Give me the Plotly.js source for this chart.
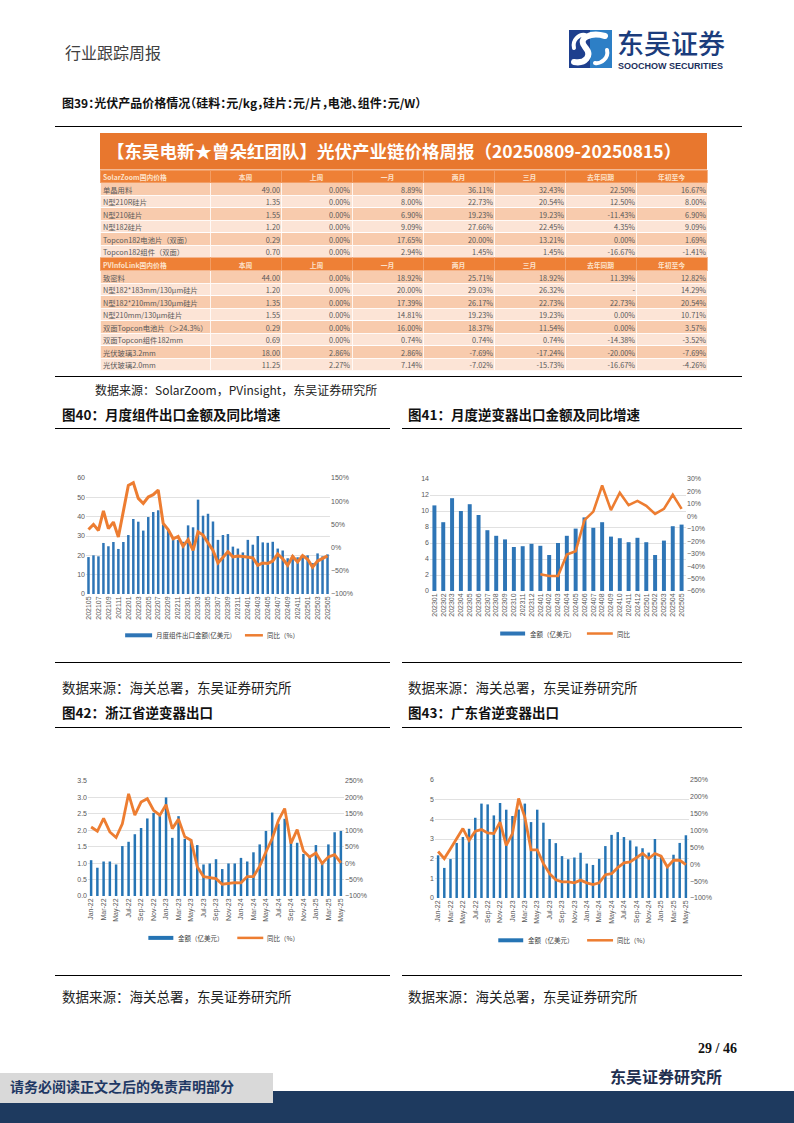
<!DOCTYPE html>
<html><head><meta charset="utf-8">
<script src="https://cdn.plot.ly/plotly-3.0.1.min.js"></script>
<style>
html,body{margin:0;padding:0;background:#fff}
body{width:794px;height:1123px;position:relative;overflow:hidden;font-family:"Noto Sans CJK SC",sans-serif}
.t{position:absolute;white-space:nowrap;line-height:1}
.hl{position:absolute;height:0;border-top:1.4px solid #000}
.cap{font-weight:700;color:#111}
.src{color:#222}
.ch{position:absolute}
</style></head><body>

<div class="t" style="left:65px;top:44px;font-size:16px;color:#404040">行业跟踪周报</div>
<svg class="t" style="left:569px;top:30px" width="43" height="38" viewBox="0 0 43 38">
  <rect x="0" y="0" width="43" height="38" fill="#1E3F8E"/>
  <rect x="21" y="0" width="22" height="38" fill="#2D7FC6"/>
  <path d="M36 6 C 22 2, 8 8, 16 17 C 24 26, 16 34, 5 32" stroke="#fff" stroke-width="6" fill="none" stroke-linecap="round"/>
  <path d="M38 20 C 40 28, 32 34, 26 33" stroke="#fff" stroke-width="4" fill="none" stroke-linecap="round"/>
  <path d="M5 18 C 3 10, 10 4, 16 5" stroke="#fff" stroke-width="4" fill="none" stroke-linecap="round"/>
</svg>
<div class="t" style="left:617px;top:29px;font-size:27px;color:#1B3C7C;font-weight:500">东吴证券</div>
<div class="t" style="left:618px;top:62px;font-size:9px;color:#1B2F5C;font-weight:700;font-family:'Liberation Sans',Arial,sans-serif">SOOCHOW SECURITIES</div>

<div class="t cap" style="left:62px;top:97px;font-size:12px;font-feature-settings:'halt'">图39：光伏产品价格情况（硅料：元/kg，硅片：元/片，电池、组件：元/W）</div>
<div class="hl" style="left:55px;top:126px;width:687px"></div>

<div id="tbl" class="ch" style="left:95px;top:128px;width:620px;height:250px"></div>

<div class="hl" style="left:55px;top:376px;width:687px"></div>
<div class="t src" style="left:95px;top:384px;font-size:12px">数据来源：SolarZoom，PVinsight，东吴证券研究所</div>

<div class="t cap" style="left:62px;top:408px;font-size:13.5px">图40：月度组件出口金额及同比增速</div>
<div class="t cap" style="left:408px;top:408px;font-size:13.5px">图41：月度逆变器出口金额及同比增速</div>
<div class="hl" style="left:55px;top:428px;width:335px"></div>
<div class="hl" style="left:402px;top:428px;width:340px"></div>

<div id="c40" class="ch" style="left:55px;top:430px;width:335px;height:230px"></div>
<div id="c41" class="ch" style="left:400px;top:430px;width:340px;height:230px"></div>

<div class="hl" style="left:55px;top:662px;width:335px"></div>
<div class="hl" style="left:402px;top:662px;width:340px"></div>
<div class="t src" style="left:62px;top:681px;font-size:13.5px">数据来源：海关总署，东吴证券研究所</div>
<div class="t src" style="left:408px;top:681px;font-size:13.5px">数据来源：海关总署，东吴证券研究所</div>

<div class="t cap" style="left:62px;top:706px;font-size:13.5px">图42：浙江省逆变器出口</div>
<div class="t cap" style="left:408px;top:706px;font-size:13.5px">图43：广东省逆变器出口</div>
<div class="hl" style="left:55px;top:727px;width:335px"></div>
<div class="hl" style="left:402px;top:727px;width:340px"></div>

<div id="c42" class="ch" style="left:55px;top:760px;width:335px;height:210px"></div>
<div id="c43" class="ch" style="left:400px;top:760px;width:340px;height:210px"></div>

<div class="hl" style="left:55px;top:975px;width:335px"></div>
<div class="hl" style="left:402px;top:975px;width:340px"></div>
<div class="t src" style="left:62px;top:990px;font-size:13.5px">数据来源：海关总署，东吴证券研究所</div>
<div class="t src" style="left:408px;top:990px;font-size:13.5px">数据来源：海关总署，东吴证券研究所</div>

<div class="t" style="right:57px;top:1042px;font-size:14px;font-weight:700;font-family:'Liberation Serif',serif;color:#111">29 / 46</div>
<div class="t" style="left:610px;top:1068px;font-size:16px;font-weight:700;color:#1F2F50">东吴证券研究所</div>
<div class="t" style="left:0;top:1091px;width:794px;height:32px;background:#1E3A5F"></div>
<div class="t" style="left:0;top:1073px;width:273px;height:30px;background:#D9D9D9"></div>
<div class="t" style="left:10px;top:1079px;font-size:14px;font-weight:700;color:#1F3864">请务必阅读正文之后的免责声明部分</div>

<script>
const FAM = '"Liberation Sans", Arial, sans-serif';
const CJK = '"Noto Sans CJK SC", sans-serif';
const ORANGE = '#ED7D31';
const config = {staticPlot: true, displayModeBar: false};

// ---------------- Table data ----------------
const tableTitle = '【东吴电新★曾朵红团队】光伏产业链价格周报（20250809-20250815）';
const colHeads = ['本周', '上周', '一月', '两月', '三月', '去年同期', '年初至今'];

const section1 = 'SolarZoom国内价格';
const names1 = ['单晶用料', 'N型210R硅片', 'N型210硅片', 'N型182硅片', 'Topcon182电池片（双面）', 'Topcon182组件（双面）'];
const price1 = [49.00, 1.35, 1.55, 1.20, 0.29, 0.70];
const lastWeek1 = [0.00, 0.00, 0.00, 0.00, 0.00, 0.00];
const oneMonth1 = [8.89, 8.00, 6.90, 9.09, 17.65, 2.94];
const twoMonth1 = [36.11, 22.73, 19.23, 27.66, 20.00, 1.45];
const threeMonth1 = [32.43, 20.54, 19.23, 22.45, 13.21, 1.45];
const yoy1 = [22.50, 12.50, -11.43, 4.35, 0.00, -16.67];
const ytd1 = [16.67, 8.00, 6.90, 9.09, 1.69, -1.41];

const section2 = 'PVInfoLink国内价格';
const names2 = ['致密料', 'N型182*183mm/130μm硅片', 'N型182*210mm/130μm硅片', 'N型210mm/130μm硅片', '双面Topcon电池片（＞24.3%）', '双面Topcon组件182mm', '光伏玻璃3.2mm', '光伏玻璃2.0mm'];
const price2 = [44.00, 1.20, 1.35, 1.55, 0.29, 0.69, 18.00, 11.25];
const lastWeek2 = [0.00, 0.00, 0.00, 0.00, 0.00, 0.00, 2.86, 2.27];
const oneMonth2 = [18.92, 20.00, 17.39, 14.81, 16.00, 0.74, 2.86, 7.14];
const twoMonth2 = [25.71, 29.03, 26.17, 19.23, 18.37, 0.74, -7.69, -7.02];
const threeMonth2 = [18.92, 26.32, 22.73, 19.23, 11.54, 0.74, -17.24, -15.73];
const yoy2 = [11.39, null, 22.73, 0.00, 0.00, -14.38, -20.00, -16.67];
const ytd2 = [12.82, 14.29, 20.54, 10.71, 3.57, -3.52, -7.69, -4.26];

const pct = v => v === null ? '-' : v.toFixed(2) + '%';
const num = v => v.toFixed(2);
const ROWH = 12.56;
const NONE = 'rgba(0,0,0,0)';

// table div: absolute x 95..715, y 128..378
const TX = ax => (ax - 95) / 620;
const TY = ay => (378 - ay) / 250;
const SHIFT = 3.4;   // lift text so it sits centred in each row
const EXTRA = 6;     // extra room below text layers so the last row is not clipped

function sectionTraces(section, names, price, pcts, topY) {
  const nRows = names.length;
  const bottomY = topY + (nRows + 1) * ROWH + 0.3;
  const rowFill = names.map((_, i) => i % 2 === 0 ? '#F8CBAD' : '#FCE4D6');
  const blank = names.map(() => '');
  const cols = [names, price.map(num)].concat(pcts.map(c => c.map(pct)));
  const geomW = [110, 71, 71, 71, 71, 71, 71, 71];
  const textDomY = [TY(bottomY - SHIFT + EXTRA), TY(topY - SHIFT)];
  const fills = {
    type: 'table', domain: {x: [TX(100), TX(707)], y: [TY(bottomY), TY(topY)]},
    columnwidth: geomW,
    header: {values: geomW.map(() => ''), height: ROWH, fill: {color: '#EE8036'},
             line: {color: '#F3A470', width: 0.8}, font: {size: 7}},
    cells: {values: geomW.map(() => blank), height: ROWH, fill: {color: geomW.map(() => rowFill)},
            line: {color: '#FFFFFF', width: 0.8}, font: {size: 7}}
  };
  const heads = {
    type: 'table', domain: {x: [TX(100), TX(707)], y: textDomY},
    columnwidth: geomW,
    header: {values: [''].concat(colHeads), height: ROWH, align: 'center', fill: {color: NONE},
             line: {color: NONE, width: 0}, font: {family: CJK, size: 6.8, color: '#FDE3CC', weight: 700}},
    cells: {values: geomW.map(() => blank), height: ROWH, fill: {color: NONE}, line: {color: NONE, width: 0},
            font: {size: 7}}
  };
  const texts = {
    type: 'table', domain: {x: [TX(95), TX(714)], y: textDomY},
    columnwidth: [122, 71, 70, 72, 71, 71, 71, 71],
    header: {values: [section].concat(colHeads.map(() => '')), height: ROWH, align: 'left',
             fill: {color: NONE}, line: {color: NONE, width: 0},
             font: {family: CJK, size: 6.8, color: '#FDE3CC', weight: 700}},
    cells: {values: cols, height: ROWH,
            align: ['left', 'right', 'right', 'right', 'right', 'right', 'right', 'right'],
            fill: {color: NONE}, line: {color: NONE, width: 0},
            font: {family: CJK, size: 7.3, color: '#595959'}}
  };
  return [fills, heads, texts];
}

const top1 = 170, top2 = 170 + 7 * ROWH;
const s1 = sectionTraces(section1, names1, price1, [lastWeek1, oneMonth1, twoMonth1, threeMonth1, yoy1, ytd1], top1);
const s2 = sectionTraces(section2, names2, price2, [lastWeek2, oneMonth2, twoMonth2, threeMonth2, yoy2, ytd2], top2);
Plotly.newPlot('tbl', [s1[0], s2[0], s1[1], s1[2], s2[1], s2[2]], {
  width: 620, height: 250, margin: {l: 0, r: 0, t: 0, b: 0},
  paper_bgcolor: 'rgba(0,0,0,0)',
  shapes: [{type: 'rect', xref: 'paper', yref: 'paper', x0: TX(100), x1: TX(707), y0: TY(169.6), y1: TY(133),
            fillcolor: '#E8772E', line: {width: 0}}],
  annotations: [{xref: 'paper', yref: 'paper', x: TX(105), y: TY(151), xanchor: 'left', yanchor: 'middle',
                 text: '<b>' + tableTitle + '</b>', showarrow: false,
                 font: {family: CJK, size: 17.5, color: '#FFFFFF'}}]
}, config);

// ---------------- Chart 40 ----------------
const months40 = ['202105','202106','202107','202108','202109','202110','202111','202112',
  '202201','202202','202203','202204','202205','202206','202207','202208','202209','202210','202211','202212',
  '202301','202302','202303','202304','202305','202306','202307','202308','202309','202310','202311','202312',
  '202401','202402','202403','202404','202405','202406','202407','202408','202409','202410','202411','202412',
  '202501','202502','202503','202504','202505'];
const moduleExport40 = [19.1, 20.0, 19.5, 26.4, 24.7, 26.9, 23.3, 26.9,
  30.5, 38.8, 37.4, 32.8, 39.8, 42.4, 43.3, 36.0, 33.0, 29.0, 28.0, 27.0,
  35.5, 34.5, 48.8, 40.5, 41.5, 37.5, 28.0, 30.5, 31.0, 24.5, 23.5, 21.5,
  28.0, 25.5, 30.0, 26.7, 26.5, 27.0, 23.5, 22.5, 18.5, 20.0, 19.0, 19.5,
  20.0, 16.0, 21.0, 19.5, 20.5];
const moduleYoY40 = [39, 50, 37, 79, 41, 55, 23, 77,
  134, 140, 106, 95, 109, 114, 124, 52, 39, 19, 24, 3,
  17, -6, 34, 27, 9, -6, -33, -22, -9, -20, -18, -19,
  -20, -22, -38, -33, -34, -29, -14, -24, -38, -19, -31, -17,
  -25, -42, -29, -24, -18];
const ticks40 = months40.filter((_, i) => i % 2 === 0);

// ---------------- Chart 41 ----------------
const months41 = ['202301','202302','202303','202304','202305','202306','202307','202308','202309','202310','202311','202312',
  '202401','202402','202403','202404','202405','202406','202407','202408','202409','202410','202411','202412',
  '202501','202502','202503','202504','202505'];
const inverterExport41 = [10.7, 8.6, 11.6, 10.0, 10.85, 9.5, 7.6, 6.9, 6.45, 5.5, 5.6, 5.9,
  5.65, 4.5, 6.0, 6.9, 7.8, 9.2, 7.9, 8.6, 6.8, 6.6, 6.1, 6.65,
  6.1, 4.5, 6.3, 8.1, 8.3];
const inverterYoY41 = [null, null, null, null, null, null, null, null, null, null, null, null,
  -46.6, -48, -48, -30.7, -28, -3, 3.8, 24.8, 5, 19, 9, 12.4,
  8.4, 1.9, 6, 17.3, 6];

// ---------------- Chart 42 / 43 ----------------
const months42 = ['Jan-22','Feb-22','Mar-22','Apr-22','May-22','Jun-22','Jul-22','Aug-22','Sep-22','Oct-22','Nov-22','Dec-22',
  'Jan-23','Feb-23','Mar-23','Apr-23','May-23','Jun-23','Jul-23','Aug-23','Sep-23','Oct-23','Nov-23','Dec-23',
  'Jan-24','Feb-24','Mar-24','Apr-24','May-24','Jun-24','Jul-24','Aug-24','Sep-24','Oct-24','Nov-24','Dec-24',
  'Jan-25','Feb-25','Mar-25','Apr-25','May-25'];
const ticks42 = months42.filter((_, i) => i % 2 === 0);
const zhejiangExport = [1.09, 0.86, 1.05, 1.05, 0.96, 1.52, 1.65, 1.88, 2.07, 2.36, 2.53, 2.45,
  3.0, 1.77, 2.43, 1.74, 1.72, 1.55, 0.96, 0.99, 1.12, 0.82, 0.99, 0.99,
  1.16, 1.05, 1.33, 1.57, 1.98, 2.54, 2.2, 2.35, 1.7, 1.62, 1.28, 1.19,
  1.55, 1.04, 1.57, 1.94, 1.98];
const zhejiangYoY = [110, 97, 136, 95, 78, 120, 211, 146, 186, 196, 161, 146,
  178, 105, 134, 80, 70, -11, -41, -45, -47, -64, -62, -59,
  -60, -41, -41, -9, 34, 75, 130, 166, 60, 102, 37, 19,
  31, -1, 19, 26, 1];
const guangdongExport = [2.17, 1.53, 1.98, 2.8, 3.1, 3.52, 4.08, 4.8, 4.76, 4.2, 4.83, 4.49,
  4.17, 4.5, 4.8, 3.86, 4.49, 3.83, 3.0, 2.79, 2.13, 1.97, 2.06, 2.3,
  1.75, 1.68, 1.99, 2.64, 3.21, 3.35, 3.1, 2.93, 2.62, 2.53, 2.31, 3.0,
  2.1, 1.6, 2.2, 2.8, 3.19];
const guangdongYoY = [38, 17, 46, 76, 106, 71, 98, 103, 93, 91, 125, 56,
  91, 195, 140, 43, 43, 2, -28, -46, -52, -52, -55, -47,
  -55, -60, -55, -31, -28, -10, 4, 7, 20, 32, 17, 32,
  24, -8, 12, 12, -1];

function dualChart(id, cats, ticks, bars, line, c) {
  const pw = c.w - c.m.l - c.m.r, ph = c.h - c.m.t - c.m.b;
  const X = px => (px - c.m.l) / pw;
  const Y = py => (c.h - c.m.b - py) / ph;
  const tf = {family: FAM, size: 7, color: '#595959'};
  const L = c.leg;
  const traces = [
    {type: 'bar', x: cats, y: bars, marker: {color: c.barColor}, yaxis: 'y', hoverinfo: 'skip'},
    {type: 'scatter', mode: 'lines', x: cats, y: line, yaxis: 'y2',
     line: {color: ORANGE, width: c.lw, shape: 'linear'}, connectgaps: false, hoverinfo: 'skip'}
  ];
  const layout = {
    width: c.w, height: c.h, margin: c.m, showlegend: false, bargap: c.gap,
    paper_bgcolor: 'rgba(0,0,0,0)', plot_bgcolor: 'rgba(0,0,0,0)',
    xaxis: {type: 'category', tickmode: 'array', tickvals: ticks, ticktext: ticks, tickangle: -90,
            tickfont: tf, showgrid: false, showline: false, ticks: '', automargin: false, fixedrange: true},
    yaxis: {range: c.yr, dtick: c.yd, tick0: 0, tickformat: c.yfmt || '', tickfont: tf, gridcolor: '#D9D9D9',
            gridwidth: 0.8, zeroline: false, showline: false, ticks: '', automargin: false},
    yaxis2: {overlaying: 'y', side: 'right', range: c.y2r, dtick: c.y2d, tick0: 0, ticksuffix: '%',
             tickfont: tf, showgrid: false, zeroline: false, showline: false, ticks: '', automargin: false},
    shapes: [
      {type: 'rect', xref: 'paper', yref: 'paper', x0: X(L.b0), x1: X(L.b1), y0: Y(L.y + 2), y1: Y(L.y - 2),
       fillcolor: c.barColor, line: {width: 0}},
      {type: 'line', xref: 'paper', yref: 'paper', x0: X(L.o0), x1: X(L.o1), y0: Y(L.y), y1: Y(L.y),
       line: {color: ORANGE, width: 2.5}}
    ],
    annotations: [
      {xref: 'paper', yref: 'paper', x: X(L.t1), y: Y(L.y), xanchor: 'left', yanchor: 'middle', showarrow: false,
       text: L.s1, font: {family: CJK, size: 6.5, color: '#404040'}},
      {xref: 'paper', yref: 'paper', x: X(L.t2), y: Y(L.y), xanchor: 'left', yanchor: 'middle', showarrow: false,
       text: L.s2, font: {family: CJK, size: 6.5, color: '#404040'}}
    ]
  };
  Plotly.newPlot(id, traces, layout, config);
}

dualChart('c40', months40, ticks40, moduleExport40, moduleYoY40, {
  w: 335, h: 230, m: {l: 30.8, r: 59.8, t: 47.7, b: 66.3, pad: 0}, gap: 0.5, lw: 3,
  barColor: '#2E75B6', yr: [0, 60], yd: 10, y2r: [-100, 150], y2d: 50,
  leg: {y: 205, b0: 70, b1: 97, t1: 99, o0: 190, o1: 208, t2: 210, s1: '月度组件出口金额(亿美元)', s2: '同比（%）'}
});
dualChart('c41', months41, months41, inverterExport41, inverterYoY41, {
  w: 340, h: 230, m: {l: 29.6, r: 53.6, t: 49.3, b: 69.3, pad: 0}, gap: 0.55, lw: 2.6,
  barColor: '#2E75B6', yr: [0, 14], yd: 2, y2r: [-60, 30], y2d: 10,
  leg: {y: 203, b0: 100, b1: 125, t1: 128, o0: 187, o1: 213, t2: 215, s1: '金额（亿美元）', s2: '同比'}
});
dualChart('c42', months42, ticks42, zhejiangExport, zhejiangYoY, {
  w: 335, h: 210, m: {l: 32.6, r: 46.2, t: 20.7, b: 74, pad: 0}, gap: 0.6, lw: 2.8,
  barColor: '#2574B4', yr: [0, 3.5], yd: 0.5, yfmt: '.1f', y2r: [-100, 250], y2d: 50,
  leg: {y: 178, b0: 93, b1: 118, t1: 121, o0: 182, o1: 208, t2: 210, s1: '金额（亿美元）', s2: '同比（%）'}
});
dualChart('c43', months42, ticks42, guangdongExport, guangdongYoY, {
  w: 340, h: 210, m: {l: 34.6, r: 50.9, t: 19.7, b: 72.3, pad: 0}, gap: 0.6, lw: 2.8,
  barColor: '#2574B4', yr: [0, 6], yd: 1, y2r: [-100, 250], y2d: 50,
  leg: {y: 180, b0: 98, b1: 123, t1: 126, o0: 187, o1: 213, t2: 215, s1: '金额（亿美元）', s2: '同比（%）'}
});
</script>
</body></html>
